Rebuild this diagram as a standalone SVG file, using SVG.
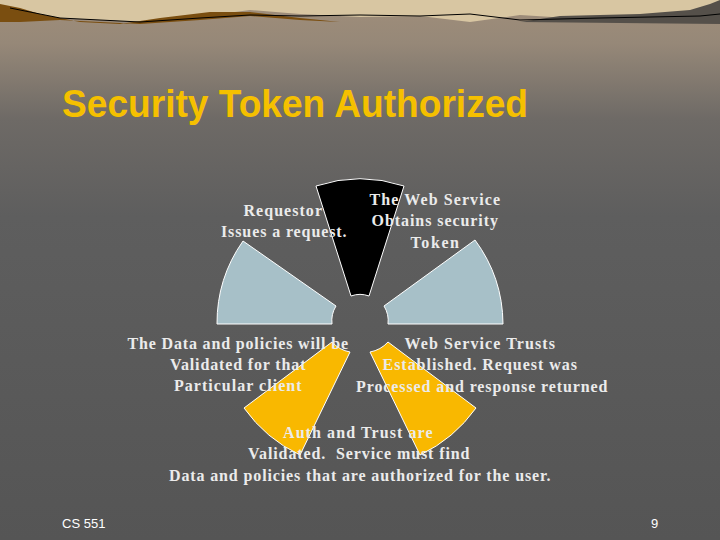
<svg xmlns="http://www.w3.org/2000/svg" width="720" height="540" viewBox="0 0 720 540">
<defs>
<linearGradient id="bg" x1="0" y1="0" x2="0" y2="1">
<stop offset="0" stop-color="#a08e7a"/>
<stop offset="0.08" stop-color="#968878"/>
<stop offset="0.22" stop-color="#6e6a66"/>
<stop offset="0.4" stop-color="#5e5e5e"/>
<stop offset="1" stop-color="#555555"/>
</linearGradient>
<style>
.t{font-family:"Liberation Serif",serif;font-size:16px;font-weight:bold;fill:#ebebeb;text-anchor:middle;letter-spacing:0.5px}
.s{stroke:#ffffff;stroke-width:1}
.f{font-family:"Liberation Sans",sans-serif;font-size:13px;fill:#ffffff}
</style>
</defs>
<rect width="720" height="540" fill="url(#bg)"/>
<g id="banner">
<path d="M0,0 H720 V24 L700,20 L600,20 L520,15 L470,22 L420,16 L360,17 L300,14 L250,10 L220,14 L190,18 L140,22 L100,20 L60,18 L30,14 L0,10 Z" fill="#d8c6a2"/>
<path d="M0,4 L20,8 L40,14 L80,22 L120,24 L160,18 L210,12 L250,12 L300,18 L340,22 L300,20 L250,16 L200,20 L140,24 L100,22 L60,20 L20,22 L0,22 Z" fill="#7a4e10"/>
<path d="M520,22 L560,16 L640,14 L690,10 L710,4 L720,0 V24 Z" fill="#55504a"/>
<path d="M10,8 L60,18 L140,22 L200,18 L250,15 L300,16 L360,15 L420,16 L470,14 L520,20 L600,18 L700,16 L720,14" fill="none" stroke="#000" stroke-width="1"/>
</g>
<text x="62" y="117" textLength="466" lengthAdjust="spacingAndGlyphs" style="font-family:'Liberation Sans',sans-serif;font-size:38px;font-weight:bold;fill:#f5c000">Security Token Authorized</text>
<g id="sectors">
<path id="black" class="s" d="M316,186 A140,140 0 0 1 404,186 L369,296 A26,26 0 0 0 351,296 Z" fill="#000000"/>
<path id="leftblue" class="s" d="M217,324 A143,143 0 0 1 243,241 L336,306 A28,28 0 0 0 332,324 Z" fill="#a7c0c8"/>
<path id="rightblue" class="s" d="M475,240 A143,143 0 0 1 503,324 L388,324 A28,28 0 0 0 384,306 Z" fill="#a7c0c8"/>
<path id="leftyellow" class="s" d="M332,342 L244,408 A145,145 0 0 0 300,455 L350,352 A32,32 0 0 1 332,342 Z" fill="#f9b800"/>
<path id="rightyellow" class="s" d="M370,352 L420,455 A145,145 0 0 0 476,408 L388,342 A32,32 0 0 1 370,352 Z" fill="#f9b800"/>
</g>
<g id="labels">
<text class="t" x="283" y="216" textLength="79">Requestor</text>
<text class="t" x="284" y="237" textLength="126">Issues a request.</text>
<text class="t" x="435" y="205" textLength="131">The Web Service</text>
<text class="t" x="435" y="226" textLength="127">Obtains security</text>
<text class="t" x="435" y="248" textLength="49">Token</text>
<text class="t" x="238" y="349" textLength="221">The Data and policies will be</text>
<text class="t" x="238" y="370" textLength="136">Validated for that</text>
<text class="t" x="238" y="391" textLength="128">Particular client</text>
<text class="t" x="480" y="349" textLength="151">Web Service Trusts</text>
<text class="t" x="480" y="370" textLength="195">Established. Request was</text>
<text class="t" x="482" y="392" textLength="252">Processed and response returned</text>
<text class="t" x="358" y="438" textLength="150">Auth and Trust are</text>
<text class="t" x="359" y="459" textLength="222" xml:space="preserve">Validated.  Service must find</text>
<text class="t" x="360" y="481" textLength="382">Data and policies that are authorized for the user.</text>
</g>
<text class="f" x="62" y="528">CS 551</text>
<text class="f" x="651" y="528">9</text>
</svg>
